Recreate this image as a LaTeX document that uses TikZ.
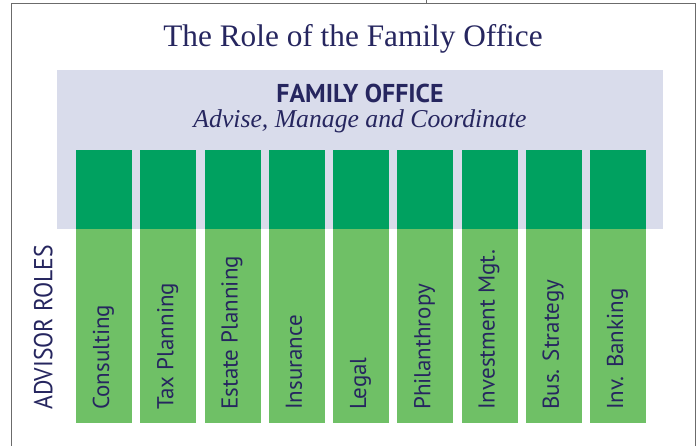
\documentclass[tikz,border=0pt]{standalone}
\usepackage{fontspec}
\setmainfont{Liberation Serif}
\newfontfamily\rolefont{PT Sans}
\newfontfamily\advfont[FakeStretch=0.91]{PT Sans}
\usepackage{tikz}
\usetikzlibrary{positioning}
\definecolor{navy}{HTML}{26265F}
\definecolor{framegray}{HTML}{6B6B6B}
\definecolor{lavender}{HTML}{D9DCEB}
\definecolor{darkgreen}{HTML}{00A160}
\definecolor{lightgreen}{HTML}{6FC066}

\begin{document}
\begin{tikzpicture}[x=1pt,y=1pt,
		role/.style={rotate=90, anchor=base west, inner sep=0pt, text=navy, font=\rolefont\fontsize{23}{23}\selectfont}]
		\useasboundingbox (0,0) rectangle (697,446);
		\draw [line width=1.2pt, framegray] (11.7,0) -- (11.7,442.3) -- (695.3,442.3) -- (695.3,0);
		\draw [line width=1pt, framegray] (426,442.3) -- (426,446);
		\fill [lavender] (57,217) rectangle (663,376);
		\node [anchor=base, inner sep=0pt, text=navy, font=\fontsize{31.3}{31.3}\selectfont](title) at (353,399.3) {The Role of the Family Office};
		\node [anchor=base, inner sep=0pt, text=navy, font=\rolefont\bfseries\fontsize{25.8}{25.8}\selectfont](office) at (360,343) {FAMILY OFFICE};
		\node [anchor=base, inner sep=0pt, text=navy, font=\itshape\fontsize{25.7}{25.7}\selectfont](motto) at (360,318) {Advise, Manage and Coordinate};
		\foreach \role [count=\i from 0] in {Consulting, Tax Planning, Estate Planning, Insurance, Legal, Philanthropy, Investment Mgt., Bus. Strategy, Inv. Banking} {
			\fill [darkgreen] (76+64.25*\i,217) rectangle ++(56,79);
			\fill [lightgreen] (76+64.25*\i,23) rectangle ++(56,194);
			\node [role](role\i) at (109+64.25*\i,36) {\role};
		}
		\node [role, font=\advfont\fontsize{26}{26}\selectfont](advisor) at (52.3,36) {ADVISOR ROLES};
		\end{tikzpicture}
\end{document}
